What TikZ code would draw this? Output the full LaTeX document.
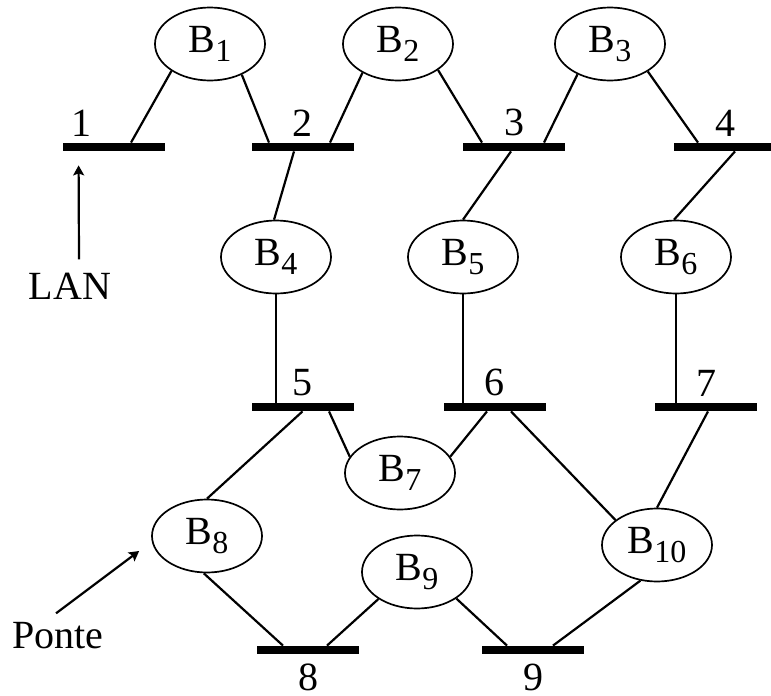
\documentclass[tikz,border=0pt]{standalone}
\usepackage{fontspec}
\setmainfont{Liberation Serif}
\usepackage{tikz}
\usetikzlibrary{positioning,arrows.meta,shapes.geometric,calc}
\newcommand{\bidx}[1]{\raisebox{-4.5pt}{\fontsize{16}{18}\selectfont #1}}

\begin{document}
\begin{tikzpicture}[x=0.5pt,y=-0.5pt,
  bridge/.style={ellipse,draw,line width=0.85pt,minimum width=55pt,minimum height=36.5pt,
    inner sep=0pt,font=\fontsize{20}{24}\selectfont},
  segment/.style={rectangle,fill=black,minimum width=51pt,minimum height=4pt,inner sep=0pt},
  segnum/.style={font=\fontsize{20}{24}\selectfont,inner sep=0pt},
  caption/.style={font=\fontsize{20}{24}\selectfont,inner sep=0pt},
  link/.style={line width=1.1pt},
  pointer/.style={line width=1.1pt,-{Stealth[length=5pt,width=5.5pt,inset=1pt]}}
]
\useasboundingbox (0,0) rectangle (771,696);

% LAN segments
\node[segment] (bus1) at (114,147) {};
\node[segment] (bus2) at (302.5,147) {};
\node[segment] (bus3) at (514,147) {};
\node[segment] (bus4) at (725,147) {};
\node[segment] (bus5) at (302.5,407) {};
\node[segment] (bus6) at (494.5,407) {};
\node[segment] (bus7) at (706,407) {};
\node[segment] (bus8) at (308,650) {};
\node[segment] (bus9) at (533,650) {};

% segment numbers
\node[segnum,above right=3pt and 4pt of bus1.north west] {1};
\node[segnum,above=3pt of bus2] {2};
\node[segnum,above=3pt of bus3] {3};
\node[segnum,above=3pt of bus4] {4};
\node[segnum,above=3pt of bus5] {5};
\node[segnum,above=3pt of bus6] {6};
\node[segnum,above=3pt of bus7] {7};
\node[segnum,below=4.5pt of bus8] {8};
\node[segnum,below=4.5pt of bus9] {9};

% bridges
\node[bridge] (B1) at (210,44) {B\bidx{1}};
\node[bridge] (B2) at (398,44) {B\bidx{2}};
\node[bridge] (B3) at (610,44) {B\bidx{3}};
\node[bridge] (B4) at (276,257) {B\bidx{4}};
\node[bridge] (B5) at (463,257) {B\bidx{5}};
\node[bridge] (B6) at (676,257) {B\bidx{6}};
\node[bridge] (B7) at (400,473) {B\bidx{7}};
\node[bridge] (B8) at (207,536) {B\bidx{8}};
\node[bridge] (B9) at (417,572) {B\bidx{9}};
\node[bridge] (B10) at (657,545) {B\bidx{10}};

% top row
\draw[link] (B1.215) -- ($(bus1.north)+(17,0)$);
\draw[link] (B1.316) -- ($(bus2.north)+(-33.5,0)$);
\draw[link] (B2.219) -- ($(bus2.north)+(27.5,0)$);
\draw[link] (B2.327) -- ($(bus3.north)+(-32,0)$);
\draw[link] (B3.223) -- ($(bus3.north)+(30,0)$);
\draw[link] (B3.324) -- ($(bus4.north)+(-27,0)$);

% middle row
\draw[link] ($(bus2.south)+(-8.5,0)$) -- (B4.93);
\draw[link] ($(bus3.south)+(-3,0)$) -- (B5.north);
\draw[link] ($(bus4.south)+(10,0)$) -- (B6.93);
\draw[link] (B4.south) -- (B4.south |- bus5.north);
\draw[link] (B5.south) -- (B5.south |- bus6.north);
\draw[link] (B6.south) -- (B6.south |- bus7.north);

% lower part
\draw[link] (bus5.south) -- (B8.north);
\draw[link] ($(bus5.south)+(26.5,0)$) -- (B7.162);
\draw[link] ($(bus6.south)+(-7.5,0)$) -- (B7.18);
\draw[link] ($(bus6.south)+(16.5,0)$) -- (B10.149);
\draw[link] ($(bus7.south)+(2,0)$) -- (B10.north);
\draw[link] (B8.265) -- ($(bus8.north)+(-25,0)$);
\draw[link] (B9.215) -- ($(bus8.north)+(19,0)$);
\draw[link] (B9.326) -- ($(bus9.north)+(-26,0)$);
\draw[link] (B10.245) -- ($(bus9.north)+(20,0)$);

% captions
\node[caption] (lantxt) at (70,286) {LAN};
\draw[pointer] ($(lantxt.north)+(9,-13)$) -- ($(bus1.south west)+(16,14)$);
\node[caption] (pontetxt) at (58,636) {Ponte};
\draw[pointer] ($(pontetxt.north)+(-2,-9)$) -- ($(B8.west)+(-12,15)$);

\end{tikzpicture}
\end{document}
